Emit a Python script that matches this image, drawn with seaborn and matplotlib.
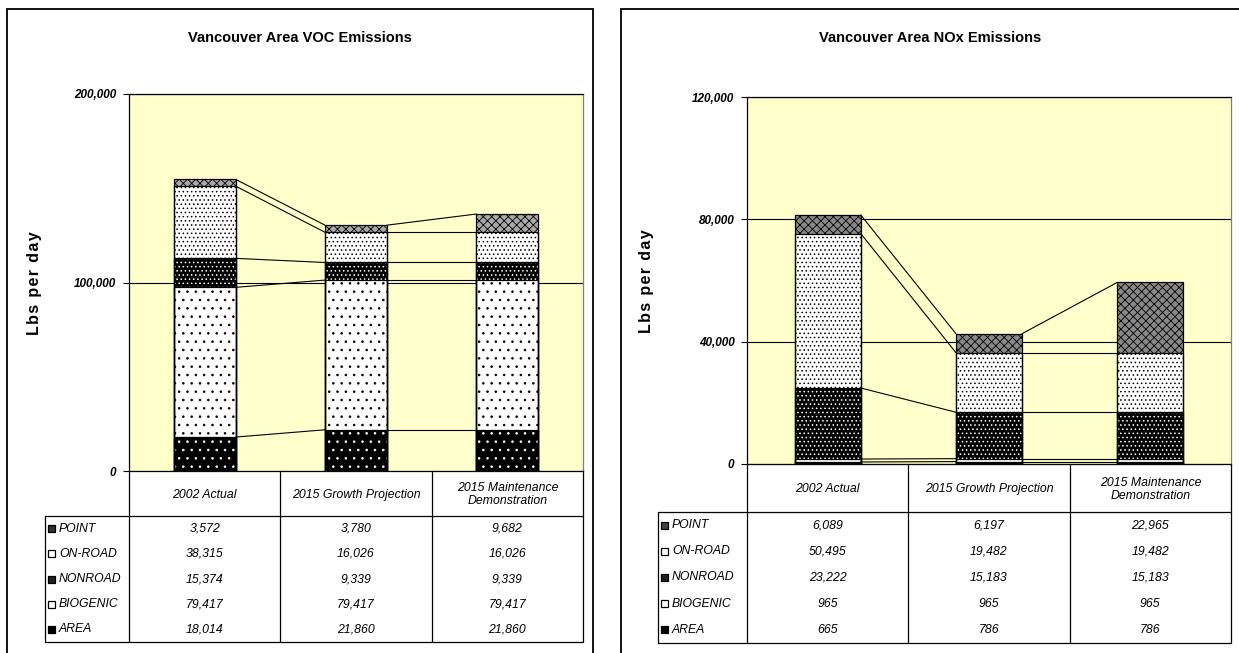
import numpy as np
import matplotlib
matplotlib.use("Agg")
import matplotlib.pyplot as plt
import seaborn as sns
from matplotlib.patches import Rectangle
from matplotlib.ticker import FuncFormatter

# ---------------- data ----------------
scenarios = ["2002 Actual", "2015 Growth Projection", "2015 Maintenance\nDemonstration"]
sectors = ["AREA", "BIOGENIC", "NONROAD", "ON-ROAD", "POINT"]  # bottom -> top

voc_area = [18014, 21860, 21860]
voc_biogenic = [79417, 79417, 79417]
voc_nonroad = [15374, 9339, 9339]
voc_onroad = [38315, 16026, 16026]
voc_point = [3572, 3780, 9682]

nox_area = [665, 786, 786]
nox_biogenic = [965, 965, 965]
nox_nonroad = [23222, 15183, 15183]
nox_onroad = [50495, 19482, 19482]
nox_point = [6089, 6197, 22965]

voc_ticks = [0, 100000, 200000]
nox_ticks = [0, 40000, 80000, 120000]

voc_title = "Vancouver Area VOC Emissions"
nox_title = "Vancouver Area NOx Emissions"
ylabel_text = "\u200a".join("Lbs per day")

# ---------------- styles ----------------
sns.set_theme(style="white")
plt.rcParams["font.family"] = ["Liberation Sans", "DejaVu Sans"]
plt.rcParams["hatch.linewidth"] = 0.6
plt.rcParams["text.color"] = "black"
plt.rcParams["axes.labelcolor"] = "black"
plt.rcParams["xtick.color"] = "black"
plt.rcParams["ytick.color"] = "black"

W, H = 1239, 653
fig = plt.figure(figsize=(W / 100, H / 100), dpi=100)
fig.patch.set_facecolor("white")
BW = 0.41
PLOT_BG = "#FFFFCC"

# (face, hatch colour, hatch, key colour)
voc_styles = {
    "AREA": ("black", "white", "..", "black"),
    "BIOGENIC": ("white", "black", "..", "white"),
    "NONROAD": ("black", "white", "....", "#202020"),
    "ON-ROAD": ("white", "black", "....", "white"),
    "POINT": ("#a8a8a8", "black", "xxxx", "#303030"),
}
nox_styles = {
    "AREA": ("black", "white", "..", "black"),
    "BIOGENIC": ("white", "black", "..", "white"),
    "NONROAD": ("black", "white", "....", "#202020"),
    "ON-ROAD": ("white", "black", "....", "white"),
    "POINT": ("#888888", "black", "xxxx", "#404040"),
}


def fr(x0, y0, x1, y1):
    return [x0 / W, 1 - y1 / H, (x1 - x0) / W, (y1 - y0) / H]


def fmt(v):
    return f"{int(v):,}"


def panel(series, ticks, styles, title, box, plot_px, table_px, title_x, ylab_xy):
    bx0, bx1 = box
    # outer frame
    fig.add_artist(Rectangle((bx0 / W, -0.02), (bx1 - bx0) / W, 1 - 9 / H + 0.02,
                             transform=fig.transFigure, fill=False,
                             edgecolor="black", linewidth=1.3))
    fig.text(title_x / W, 1 - 38 / H, title, ha="center", va="center",
             fontsize=10.5, fontweight="bold")
    fig.text(ylab_xy[0] / W, 1 - ylab_xy[1] / H, ylabel_text, rotation=90,
             ha="center", va="center", fontsize=11.5, fontweight="bold")

    px0, py0, px1, py1 = plot_px
    ax = fig.add_axes(fr(px0, py0, px1, py1))
    ax.set_facecolor(PLOT_BG)
    arr = np.array(series, dtype=float)
    cum = np.cumsum(arr, axis=0)

    # filled, hatched layers (tallest first)
    for k in reversed(range(len(sectors))):
        face, hc, hatch, _ = styles[sectors[k]]
        sns.barplot(x=scenarios, y=cum[k], order=scenarios, color=face,
                    edgecolor=hc, hatch=hatch, linewidth=0, width=BW,
                    saturation=1, errorbar=None, ax=ax, zorder=2)
    # outlines
    for k in range(len(sectors)):
        sns.barplot(x=scenarios, y=cum[k], order=scenarios, color="black",
                    fill=False, linewidth=0.9, width=BW, saturation=1,
                    errorbar=None, ax=ax, zorder=3)
    # series lines
    for k in range(len(sectors)):
        for i in range(len(scenarios) - 1):
            ax.plot([i + BW / 2, i + 1 - BW / 2], [cum[k][i], cum[k][i + 1]],
                    color="black", linewidth=0.8, zorder=4)

    ax.set_xlim(-0.5, len(scenarios) - 0.5)
    ax.set_ylim(0, ticks[-1])
    ax.set_yticks(ticks)
    ax.yaxis.set_major_formatter(FuncFormatter(lambda v, p: fmt(v)))
    ax.set_xticks([])
    ax.set_xlabel("")
    ax.set_ylabel("")
    ax.set_axisbelow(True)
    ax.yaxis.grid(True, color="black", linewidth=0.8)
    ax.xaxis.grid(False)
    ax.tick_params(axis="y", direction="out", length=4, width=0.8, pad=5,
                   left=True, labelsize=8.5, colors="black")
    for lab in ax.get_yticklabels():
        lab.set_fontweight("bold")
        lab.set_fontstyle("italic")
    for s in ["left", "top", "bottom"]:
        ax.spines[s].set_color("black")
        ax.spines[s].set_linewidth(0.9)
    ax.spines["right"].set_color("#808080")
    ax.spines["right"].set_linewidth(0.9)

    # ---------------- data table ----------------
    tx0, ty_head, ty1 = table_px
    colw = (px1 - px0) / len(scenarios)
    xl = -0.5 - (px0 - tx0) / colw
    nrows = len(sectors)
    rowpx = (ty1 - ty_head) / nrows
    hdr = (ty_head - py1) / rowpx
    tax = fig.add_axes(fr(tx0, py1, px1, ty1))
    tax.set_xlim(xl, len(scenarios) - 0.5)
    tax.set_ylim(hdr + nrows, 0)
    tax.axis("off")
    lk = dict(color="black", linewidth=0.9, clip_on=False)
    for xv in np.arange(-0.5, len(scenarios), 1.0):
        tax.plot([xv, xv], [0, hdr + nrows], **lk)
    tax.plot([xl, xl], [hdr, hdr + nrows], **lk)
    tax.plot([xl, len(scenarios) - 0.5], [hdr, hdr], **lk)
    tax.plot([xl, len(scenarios) - 0.5], [hdr + nrows, hdr + nrows], **lk)

    for i, sc in enumerate(scenarios):
        tax.text(i, hdr / 2 + 0.05, sc, ha="center", va="center", fontsize=8.8,
                 fontstyle="italic", linespacing=1.15)

    kw = 7 / colw
    kh = 7 / rowpx
    for r, k in enumerate(reversed(range(nrows))):
        name = sectors[k]
        yc = hdr + r + 0.5
        face, hc, hatch, keyc = styles[name]
        tax.add_patch(Rectangle((xl + 3 / colw, yc - kh / 2), kw, kh,
                                facecolor=keyc, edgecolor="black", linewidth=0.9,
                                clip_on=False))
        tax.text(xl + 14 / colw, yc, name, ha="left", va="center", fontsize=8.8,
                 fontstyle="italic")
        for i in range(len(scenarios)):
            tax.text(i, yc, fmt(series[k][i]), ha="center", va="center",
                     fontsize=8.8, fontstyle="italic")


panel([voc_area, voc_biogenic, voc_nonroad, voc_onroad, voc_point], voc_ticks,
      voc_styles, voc_title, (7, 593), (129, 94, 583, 471), (45, 516, 642),
      300, (35, 283))
panel([nox_area, nox_biogenic, nox_nonroad, nox_onroad, nox_point], nox_ticks,
      nox_styles, nox_title, (621, 1250), (747, 97, 1231, 464), (658, 512, 643),
      930, (646, 281))

fig.savefig("out.png", dpi=100, facecolor="white")
